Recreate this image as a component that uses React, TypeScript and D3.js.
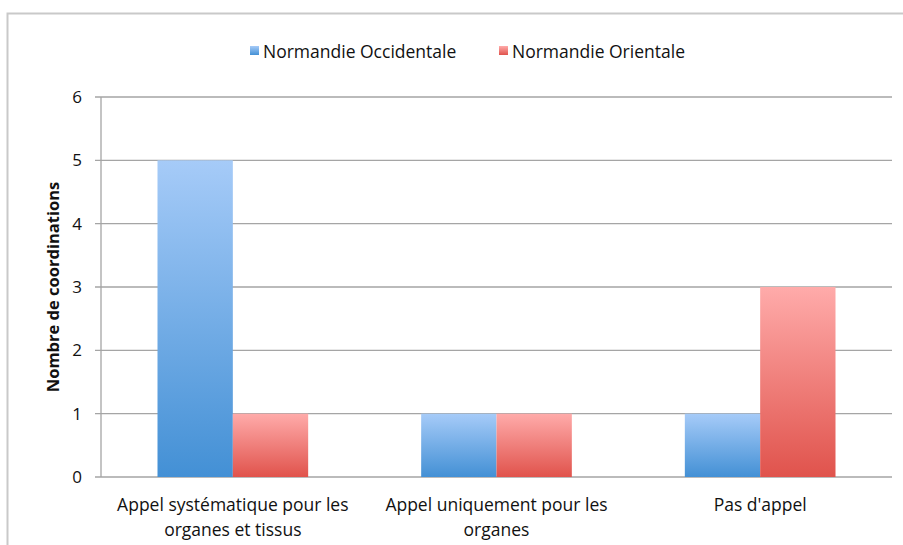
import React from "react";
import * as d3 from "d3";

const categories = [
  ["Appel systématique pour les", "organes et tissus"],
  ["Appel uniquement pour les", "organes"],
  ["Pas d'appel"],
];
const seriesNames = ["Normandie Occidentale", "Normandie Orientale"];
const occidentale = [5, 1, 1];
const orientale = [1, 1, 3];
const yTicks = [0, 1, 2, 3, 4, 5, 6];

const W = 903;
const H = 545;
const margin = { left: 101, right: 11, top: 97, bottom: 68 };
const font = "'Open Sans', sans-serif";

export default function App() {
  const x = d3
    .scaleBand<number>()
    .domain([0, 1, 2])
    .range([margin.left, W - margin.right]);
  const inner = d3.scaleBand<number>().domain([0, 1]).range([0, x.bandwidth()]).paddingOuter(0.75).paddingInner(0);
  const y = d3.scaleLinear().domain([0, 6]).range([H - margin.bottom, margin.top]);
  const series = [occidentale, orientale];
  const fills = ["url(#gBlue)", "url(#gRed)"];

  return (
    <svg width={W} height={H} style={{ position: "absolute", left: 0, top: 0 }}>
      <defs>
        <linearGradient id="gBlue" x1="0" y1="0" x2="0" y2="1">
          <stop offset="0" stopColor="#a6cbf8" />
          <stop offset="1" stopColor="#4390d5" />
        </linearGradient>
        <linearGradient id="gRed" x1="0" y1="0" x2="0" y2="1">
          <stop offset="0" stopColor="#ffabaa" />
          <stop offset="1" stopColor="#e0534c" />
        </linearGradient>
      </defs>
      <rect x={0} y={0} width={W} height={H} fill="#fff" />
      <path d={`M7.5,${H} V13.5 H${W}`} fill="none" stroke="#c9c9c9" strokeWidth={2} />

      {/* legend */}
      <g fontFamily={font} fontSize={17.5} fill="#111">
        <rect x={250} y={46} width={9} height={9} fill="url(#gBlue)" />
        <text x={263} y={58}>{seriesNames[0]}</text>
        <rect x={499} y={46} width={9} height={9} fill="url(#gRed)" />
        <text x={512} y={58}>{seriesNames[1]}</text>
      </g>

      {/* grid */}
      {yTicks.map((t) => (
        <g key={t}>
          <line x1={95} x2={W - margin.right} y1={y(t)} y2={y(t)} stroke="#a5a5a5" strokeWidth={1.3} />
          <text x={77} y={y(t) + 6} textAnchor="middle" fontFamily={font} fontSize={17} fill="#111">
            {t}
          </text>
        </g>
      ))}
      <line x1={margin.left} x2={margin.left} y1={y(6)} y2={y(0)} stroke="#a5a5a5" strokeWidth={1.3} />

      {/* bars */}
      {categories.map((c, i) =>
        series.map((s, j) => (
          <rect
            key={`${i}-${j}`}
            x={(x(i) as number) + (inner(j) as number)}
            y={y(s[i])}
            width={inner.bandwidth()}
            height={y(0) - y(s[i])}
            fill={fills[j]}
          />
        ))
      )}

      {/* x labels */}
      {categories.map((c, i) => (
        <text
          key={i}
          x={(x(i) as number) + x.bandwidth() / 2}
          y={511}
          textAnchor="middle"
          fontFamily={font}
          fontSize={17.5}
          fill="#111"
        >
          {c.map((line, k) => (
            <tspan key={k} x={(x(i) as number) + x.bandwidth() / 2} dy={k === 0 ? 0 : 25}>
              {line}
            </tspan>
          ))}
        </text>
      ))}

      <text
        transform={`translate(59,${(y(0) + y(6)) / 2}) rotate(-90)`}
        textAnchor="middle"
        fontFamily={font}
        fontSize={16.5}
        fontWeight="bold"
        fill="#111"
      >
        Nombre de coordinations
      </text>
    </svg>
  );
}
